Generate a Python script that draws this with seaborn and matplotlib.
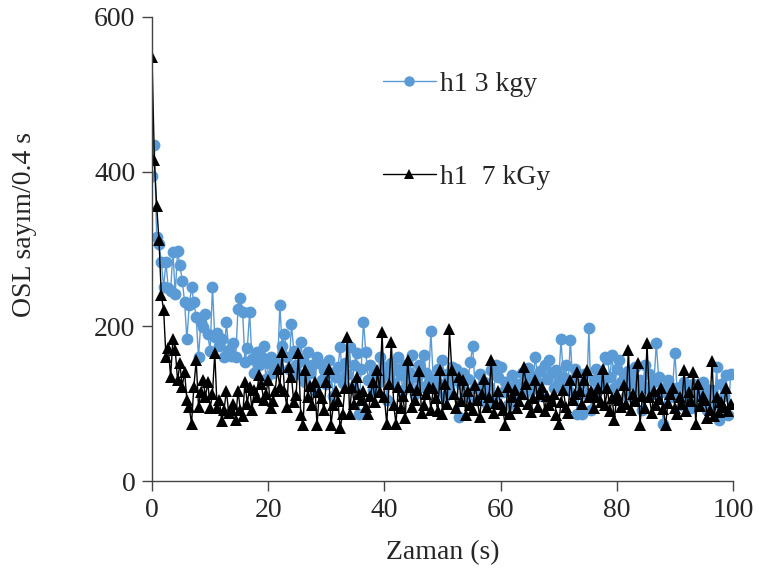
import numpy as np
import pandas as pd
import seaborn as sns
import matplotlib
matplotlib.use("Agg")
import matplotlib.pyplot as plt

# time axis: 250 readings, 0.4 s apart
zaman = np.arange(250) * 0.4

h1_3kgy = [
    394, 434, 315, 307, 283, 251, 283, 249, 246, 296,
    242, 298, 279, 259, 232, 183, 227, 251, 231, 212,
    160, 205, 199, 216, 190, 168, 251, 186, 192, 175,
    184, 160, 206, 170, 162, 178, 160, 223, 237, 218,
    154, 172, 218, 158, 140, 167, 150, 162, 175, 132,
    152, 160, 140, 155, 147, 227, 175, 190, 160, 145,
    203, 168, 150, 138, 180, 155, 128, 167, 140, 150,
    118, 160, 152, 130, 143, 125, 156, 140, 110, 135,
    148, 173, 127, 152, 138, 173, 120, 150, 165, 87,
    145, 206, 167, 130, 150, 118, 140, 125, 160, 135,
    148, 105, 138, 152, 127, 145, 160, 137, 118, 150,
    128, 140, 163, 112, 135, 150, 122, 163, 140, 128,
    194, 132, 118, 145, 125, 156, 110, 138, 120, 147,
    130, 145, 83, 125, 140, 108, 132, 154, 175, 120,
    105, 138, 115, 128, 100, 122, 143, 110, 150, 135,
    148, 115, 128, 98, 120, 137, 108, 125, 122, 140,
    113, 130, 146, 118, 135, 161, 127, 142, 110, 150,
    132, 157, 140, 120, 143, 128, 183, 135, 150, 118,
    182, 130, 145, 87, 125, 87, 138, 112, 198, 92,
    130, 145, 118, 140, 125, 160, 158, 135, 163, 120,
    145, 156, 128, 138, 110, 142, 125, 133, 148, 118,
    130, 92, 150, 120, 138, 112, 128, 178, 135, 115,
    74, 122, 130, 108, 120, 166, 115, 122, 98, 128,
    110, 118, 95, 125, 105, 115, 100, 128, 120, 92,
    110, 118, 100, 147, 79, 125, 110, 137, 85, 138,
]

h1_7kgy = [
    548, 415, 356, 311, 240, 221, 160, 172, 135, 184,
    169, 130, 152, 122, 141, 105, 96, 74, 122, 156,
    96, 115, 130, 109, 128, 94, 112, 166, 94, 105,
    77, 92, 117, 88, 92, 99, 79, 117, 92, 84,
    128, 100, 122, 92, 118, 109, 137, 126, 105, 112,
    131, 94, 103, 117, 145, 121, 167, 117, 96, 148,
    135, 102, 111, 165, 85, 72, 143, 109, 123, 98,
    128, 72, 115, 107, 92, 128, 145, 72, 98, 117,
    104, 68, 87, 120, 186, 87, 122, 100, 135, 113,
    105, 117, 96, 87, 110, 128, 102, 143, 115, 193,
    108, 74, 125, 180, 98, 74, 122, 94, 110, 81,
    156, 122, 96, 105, 118, 142, 88, 98, 112, 122,
    92, 120, 107, 90, 143, 87, 125, 100, 196, 143,
    113, 95, 135, 104, 130, 85, 117, 98, 92, 124,
    105, 83, 112, 132, 96, 108, 157, 88, 101, 117,
    99, 92, 72, 122, 87, 109, 118, 94, 103, 113,
    147, 126, 100, 89, 107, 130, 96, 113, 122, 91,
    110, 98, 104, 113, 85, 74, 102, 118, 96, 88,
    130, 105, 112, 141, 117, 100, 130, 144, 108, 117,
    94, 109, 120, 102, 145, 98, 120, 90, 107, 79,
    112, 105, 96, 124, 100, 170, 92, 113, 104, 153,
    72, 110, 95, 178, 109, 88, 117, 98, 106, 120,
    93, 72, 101, 112, 120, 95, 87, 108, 100, 143,
    90, 115, 104, 141, 74, 126, 97, 110, 105, 82,
    92, 155, 84, 109, 89, 102, 96, 120, 91, 100,
]

df = pd.DataFrame({"Zaman": zaman, "h1_3": h1_3kgy, "h1_7": h1_7kgy})

sns.set_style("white")
plt.rcParams["font.family"] = ["Liberation Serif", "DejaVu Serif"]

fig = plt.figure(figsize=(7.59, 5.76), dpi=100)
ax = fig.add_axes([0.2003, 0.1649, 0.7654, 0.8056])

sns.lineplot(data=df, x="Zaman", y="h1_3", ax=ax, color="#5B9BD5",
             marker="o", markersize=8.5, markeredgewidth=0, linewidth=1,
             estimator=None, sort=False, label="h1 3 kgy")
sns.lineplot(data=df, x="Zaman", y="h1_7", ax=ax, color="black",
             marker="^", markersize=8.5, markeredgewidth=0, linewidth=1,
             estimator=None, sort=False, label="h1  7 kGy")

ax.set_xlim(0, 100)
ax.set_ylim(0, 600)
ax.set_xticks([0, 20, 40, 60, 80, 100])
ax.set_yticks([0, 200, 400, 600])
ax.tick_params(axis="both", labelsize=20, direction="out", length=7,
               width=1, color="#444444", left=True, bottom=True, pad=5)
for side in ["top", "right"]:
    ax.spines[side].set_visible(False)
for side in ["left", "bottom"]:
    ax.spines[side].set_color("#444444")
    ax.spines[side].set_linewidth(1)

ax.set_xlabel("Zaman (s)", fontsize=20, va="center")
ax.set_ylabel("OSL sayım/0.4 s", fontsize=20, va="center")
ax.xaxis.set_label_coords(0.5, -0.155)
ax.yaxis.set_label_coords(-0.219, 0.552)

leg = ax.legend(loc="upper left", bbox_to_anchor=(0.3545, 0.937), frameon=False,
                fontsize=20, labelspacing=2.45, handlelength=1.9,
                handletextpad=0.15, numpoints=1, borderpad=0.4)
for h in leg.legend_handles:
    h.set_markersize(7.5)

fig.savefig("out.png", dpi=100)
